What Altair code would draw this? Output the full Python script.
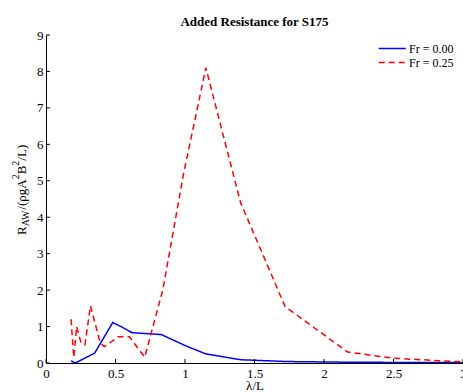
import altair as alt
import pandas as pd

# ---- data ----
series = ["Fr = 0.00", "Fr = 0.25"]
blue_x = [0.18, 0.21, 0.35, 0.48, 0.54, 0.62, 0.83, 1.00, 1.15, 1.40, 1.73, 2.20, 3.00]
blue_y = [0.06, 0.00, 0.27, 1.11, 1.00, 0.83, 0.78, 0.48, 0.25, 0.09, 0.04, 0.02, 0.01]
red_x = [0.18, 0.20, 0.22, 0.25, 0.28, 0.32, 0.39, 0.42, 0.52, 0.60, 0.71, 0.84, 0.99, 1.15, 1.40, 1.72, 2.17, 2.50, 3.00]
red_y = [1.20, 0.15, 1.00, 0.58, 0.50, 1.57, 0.55, 0.45, 0.72, 0.72, 0.16, 2.00, 5.20, 8.10, 4.40, 1.55, 0.30, 0.13, 0.03]
x_ticks = [0, 0.5, 1, 1.5, 2, 2.5, 3]
y_ticks = [0, 1, 2, 3, 4, 5, 6, 7, 8, 9]

W, H = 417, 328
FONT = "Liberation Serif"

df = pd.concat([
    pd.DataFrame({"lam": blue_x, "raw": blue_y, "series": series[0]}),
    pd.DataFrame({"lam": red_x, "raw": red_y, "series": series[1]}),
], ignore_index=True)
df["order"] = range(len(df))

xscale = alt.Scale(domain=[0, 3], nice=False, zero=False)
yscale = alt.Scale(domain=[0, 9], nice=False, zero=False)
xaxis = alt.Axis(values=x_ticks, format="~g", title="λ/L", labelFlush=False,
                 labelPadding=4, titleX=W / 2, titleY=26.5, titleBaseline="alphabetic",
                 titleAlign="center")
yaxis = alt.Axis(values=y_ticks, format="d", title=None, labelPadding=3)

legend = alt.Legend(
    title=None, orient="none", legendX=332, legendY=6,
    symbolType="M-1,0H3", symbolSize=182, symbolStrokeWidth=1.5,
    labelFont=FONT, labelFontSize=12, labelColor="black",
    padding=0, rowPadding=0, labelOffset=16,
)

lines = alt.Chart(df).mark_line(strokeWidth=1.5, clip=True).encode(
    x=alt.X("lam:Q", scale=xscale, axis=xaxis),
    y=alt.Y("raw:Q", scale=yscale, axis=yaxis),
    color=alt.Color("series:N", scale=alt.Scale(domain=series, range=["#0000ff", "#ff0000"]), legend=legend),
    strokeDash=alt.StrokeDash("series:N", scale=alt.Scale(domain=series, range=[[1, 0], [6, 4]]), legend=legend),
    order="order:Q",
)

xt = alt.Chart(pd.DataFrame({"t": x_ticks})).mark_rule(color="black", strokeWidth=1).encode(
    x=alt.X("t:Q", scale=xscale, axis=xaxis), y=alt.value(H), y2=alt.value(H - 4))
yt = alt.Chart(pd.DataFrame({"t": y_ticks})).mark_rule(color="black", strokeWidth=1).encode(
    y=alt.Y("t:Q", scale=yscale, axis=yaxis), x=alt.value(0), x2=alt.value(4))

# y-axis title with sub/superscripts built from pieces
em = {"R": .667, "A": .722, "W": .944, "/": .278, "(": .333, "ρ": .5, "g": .5,
      "B": .667, "2": .5, "L": .611, ")": .333}
pieces = [("R", 13, -20.5), ("AW", 10, -17.5), ("/(ρgA", 13, -20.5), ("2", 10, -27),
          ("B", 13, -20.5), ("2", 10, -27), ("/L)", 13, -20.5)]
one = pd.DataFrame({"a": [0]})
label_layers = []
cur = 200.0
for txt, fs, xx in pieces:
    label_layers.append(
        alt.Chart(one).mark_text(text=txt, angle=270, align="left", baseline="alphabetic",
                                 font=FONT, fontSize=fs, color="black")
        .encode(x=alt.value(xx), y=alt.value(cur)))
    cur -= sum(em[c] for c in txt) * fs

chart = alt.layer(lines, xt, yt, *label_layers).properties(
    width=W, height=H,
    autosize=alt.AutoSizeParams(type="none"),
    padding={"left": 46, "top": 35, "right": 0, "bottom": 29},
    title=alt.Title("Added Resistance for S175", font=FONT, fontSize=13, fontWeight="bold",
                    anchor="middle", baseline="alphabetic", offset=11, frame="group",
                    dy=21, color="black"),
).configure_view(stroke=None).configure_axis(
    grid=False, domainColor="black", domainWidth=1, ticks=False, tickSize=0,
    labelFont=FONT, labelFontSize=13, labelColor="black",
    titleFont=FONT, titleFontSize=13, titleFontWeight="normal", titleColor="black",
)

chart.save("out.html", embed_options={"renderer": "svg", "actions": False})
